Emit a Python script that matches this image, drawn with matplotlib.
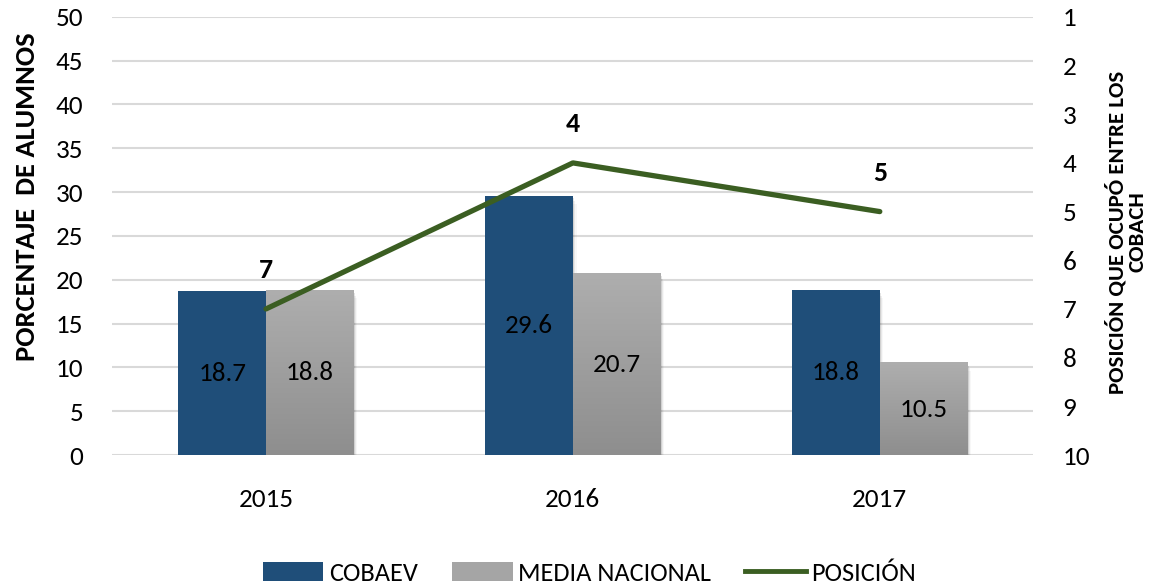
import numpy as np
import matplotlib
matplotlib.use("Agg")
import matplotlib.pyplot as plt
from matplotlib.patches import Patch
from matplotlib.lines import Line2D
from matplotlib.colors import LinearSegmentedColormap

years = ["2015", "2016", "2017"]
cobaev = [18.7, 29.6, 18.8]
media_nacional = [18.8, 20.7, 10.5]
posicion = [7, 4, 5]

plt.rcParams['font.family'] = ['Carlito', 'DejaVu Sans']

BLUE = "#1F4E79"
GREEN = "#3B5E22"
GRID = "#D9D9D9"

fig = plt.figure(figsize=(11.67, 5.85), dpi=100)
ax = fig.add_axes([0.0964, 0.2222, 0.789, 0.749])
ax2 = ax.twinx()

x = np.arange(len(years))
w = 0.285

# gray gradient for the national average bars
grad = np.linspace(0, 1, 256).reshape(-1, 1)
gray_cmap = LinearSegmentedColormap.from_list("g", ["#8E8E8E", "#AEAEAE"])

bars1 = ax.bar(x - w / 2, cobaev, w, color=BLUE, zorder=3)
bars2 = ax.bar(x + w / 2, media_nacional, w, color="none", zorder=3)
for b in bars2:
    bx, by = b.get_x(), b.get_y()
    bw, bh = b.get_width(), b.get_height()
    ax.imshow(grad, cmap=gray_cmap, origin="lower", aspect="auto",
              extent=[bx, bx + bw, by, by + bh], zorder=3)

# soft shadow behind bars
for b in list(bars1) + list(bars2):
    for k, a in enumerate([0.10, 0.06, 0.03]):
        ax.add_patch(plt.Rectangle((b.get_x() + 0.004 * (k + 1), -0.3 * (k + 1)),
                                   b.get_width(), b.get_height(),
                                   color="black", alpha=a, lw=0, zorder=2))

for b, v in zip(bars1, cobaev):
    ax.text(b.get_x() + b.get_width() / 2, v / 2, f"{v:.1f}", ha="center",
            va="center", fontsize=19.5, color="black", zorder=5)
for b, v in zip(bars2, media_nacional):
    ax.text(b.get_x() + b.get_width() / 2, v / 2, f"{v:.1f}", ha="center",
            va="center", fontsize=19.5, color="black", zorder=5)

ax.set_xlim(-0.5, 2.5)
ax.set_ylim(0, 50)
ax.set_yticks(range(0, 51, 5))
ax.set_xticks(x)
ax.set_xticklabels(years)
ax.grid(axis="y", color=GRID, lw=1.5, zorder=0)
ax.set_axisbelow(True)
for s in ax.spines.values():
    s.set_visible(False)
for s in ax2.spines.values():
    s.set_visible(False)
ax.tick_params(axis="y", length=0, pad=21, labelsize=19.5, colors="#000000")
ax.tick_params(axis="x", length=0, pad=24, labelsize=19.5)

ax2.plot(x, posicion, color=GREEN, lw=3.8, solid_capstyle="round", zorder=6)
ax2.set_ylim(10, 1)
ax2.set_yticks(range(1, 11))
ax2.tick_params(axis="y", length=0, pad=21, labelsize=19.5)
for xi, p in zip(x, posicion):
    ax2.annotate(str(p), (xi, p), xytext=(0, 28), textcoords="offset points",
                 ha="center", va="center", fontsize=20, fontweight="bold")

# axis titles
fig.text(27 / 1167, 1 - 197 / 585, "PORCENTAJE  DE ALUMNOS", rotation=90,
         ha="center", va="center", fontsize=20.5, fontweight="bold")
fig.text(1127 / 1167, 1 - 232 / 585, "POSICIÓN QUE OCUPÓ ENTRE LOS\nCOBACH",
         rotation=90, ha="center", va="center", multialignment="center",
         fontsize=16.5, fontweight="bold", linespacing=1.0)

handles = [Patch(facecolor=BLUE), Patch(facecolor="#A5A5A5"),
           Line2D([0], [0], color=GREEN, lw=3.5)]
fig.legend(handles, ["COBAEV", "MEDIA NACIONAL", "POSICIÓN"], loc="lower center",
           bbox_to_anchor=(0.505, -0.04), ncol=3, frameon=False, fontsize=19,
           handlelength=2.3, handleheight=0.7, handletextpad=0.2, columnspacing=1.3)

fig.savefig("out.png", dpi=100)
